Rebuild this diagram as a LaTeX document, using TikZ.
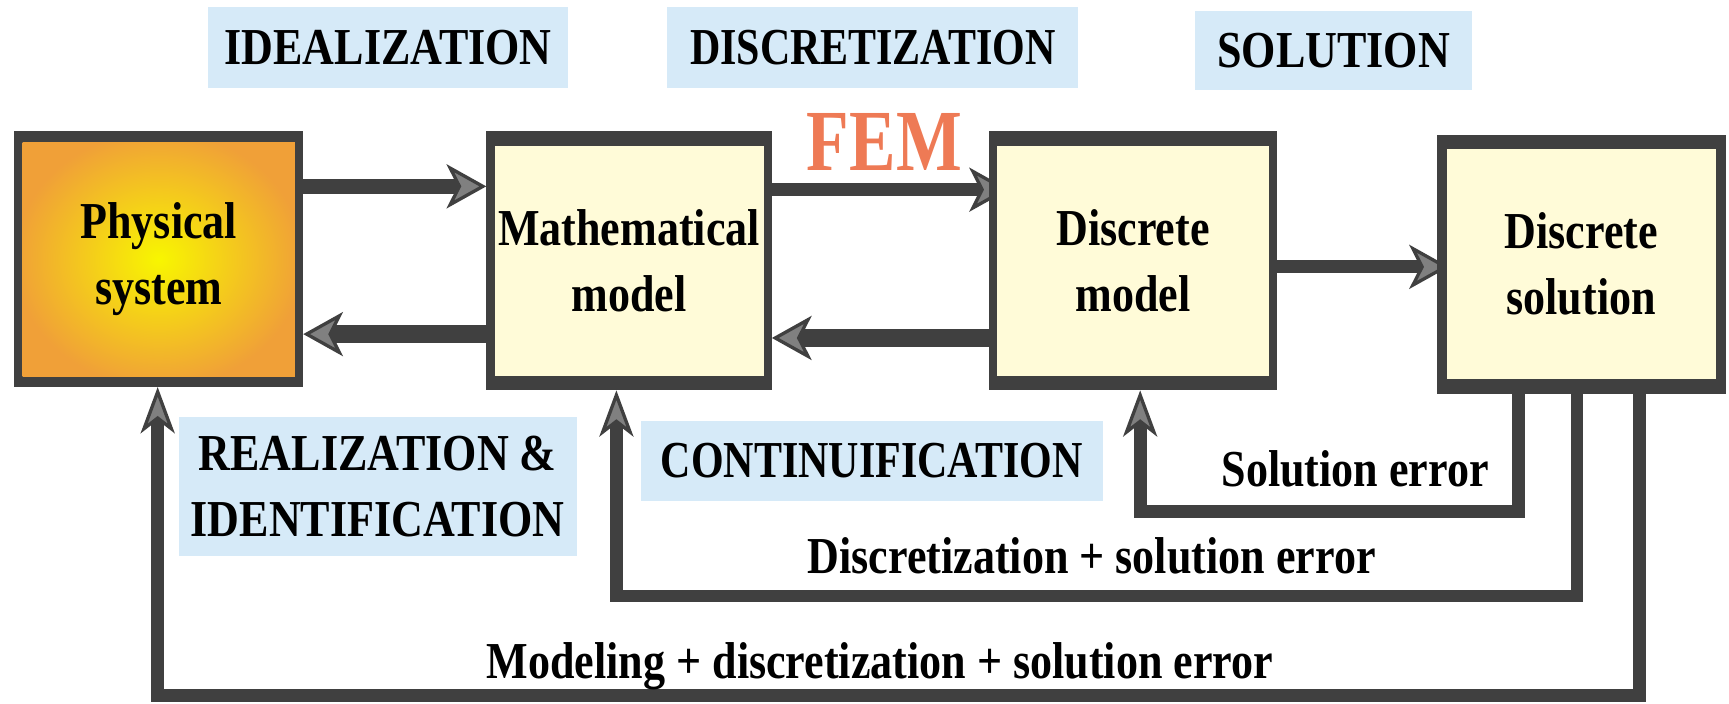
\documentclass[tikz,border=0pt]{standalone}
\usepackage{graphicx}
\usepackage{fontspec}
\setmainfont{Liberation Serif}[BoldFont={Liberation Serif Bold}]
\usetikzlibrary{arrows.meta,backgrounds}
\definecolor{dark}{RGB}{64,64,64}
\definecolor{tipgray}{RGB}{128,128,128}
\definecolor{boxfill}{RGB}{255,251,216}
\definecolor{labblue}{RGB}{214,234,248}
\definecolor{femred}{RGB}{238,122,85}
\definecolor{physin}{RGB}{248,246,0}
\definecolor{physout}{RGB}{240,160,56}
\newcommand\bigtxt{\rmfamily\bfseries\fontsize{47}{60}\selectfont}
\newcommand\cz[1]{\scalebox{0.85}[1]{#1}}
\newcommand\czn[1]{\scalebox{0.81}[1]{#1}}
\tikzset{
  blk/.style args={#1/#2}{inner sep=0pt, outer sep=0pt, fill=dark, align=center, font=\bigtxt,
    path picture={\fill[boxfill] ([xshift=#1,yshift=-#2]path picture bounding box.north west) rectangle ([xshift=-#1,yshift=#2]path picture bounding box.south east);}},
  lbl/.style={inner sep=0pt, outer sep=0pt, fill=labblue, align=center, font=\bigtxt},
  errtxt/.style={anchor=base, inner sep=0pt, font=\bigtxt},
  harr/.style={draw=dark, -{Stealth[length=36pt,width=40pt,inset=10pt,line width=3pt,color=dark,fill=tipgray]}},
  varr/.style={draw=dark, line width=11.5pt, -{Stealth[length=42pt,width=31pt,inset=12pt,line width=3pt,color=dark,fill=tipgray]}}
}
\begin{document}
\begin{tikzpicture}[x=1pt,y=-1pt]
\useasboundingbox (0,0) rectangle (1568,638);

% top labels
\node[lbl, minimum width=326pt, minimum height=74pt] (ideal) at (352,43) {\cz{IDEALIZATION}};
\node[lbl, minimum width=373pt, minimum height=74pt] (discr) at (791.5,43) {\czn{DISCRETIZATION}};
\node[lbl, minimum width=251pt, minimum height=72pt] (soln) at (1209.5,46) {\cz{SOLUTION}};
\node[anchor=base, inner sep=0pt, font=\rmfamily\bfseries\fontsize{79}{80}\selectfont, text=femred] (fem) at (802,155) {\scalebox{0.8}[1]{FEM}};

% boxes
\node[inner sep=0pt, outer sep=0pt, fill=dark, align=center, font=\bigtxt,
      minimum width=262pt, minimum height=232pt,
      path picture={\shade[inner color=physin, outer color=physout] ([xshift=7.5pt,yshift=-10pt]path picture bounding box.north west) rectangle ([xshift=-7.5pt,yshift=10pt]path picture bounding box.south east);}]
      (phys) at (144,235) {\cz{Physical}\\\cz{system}};
\node[blk=7.5pt/13pt, minimum width=259pt, minimum height=235pt] (math) at (570.5,236.5) {\cz{Mathematical}\\\cz{model}};
\node[blk=7.5pt/13pt, minimum width=261pt, minimum height=235pt] (disc) at (1027.5,236.5) {\cz{Discrete}\\\cz{model}};
\node[blk=9pt/13pt, minimum width=262pt, minimum height=235pt] (sol) at (1434,239.5) {\cz{Discrete}\\\cz{solution}};

% lower labels
\node[lbl, minimum width=361pt, minimum height=126pt] (real) at (342.5,441) {\cz{REALIZATION \&}\\\cz{IDENTIFICATION}};
\node[lbl, minimum width=419pt, minimum height=72pt] (cont) at (790.5,418) {\czn{CONTINUIFICATION}};
\node[errtxt] (e1) at (1229,441) {\cz{Solution error}};
\node[errtxt] (e2) at (990,520) {\cz{Discretization + solution error}};
\node[errtxt] (e3) at (798,615) {\cz{Modeling + discretization + solution error}};

% connectors
\coordinate (a1) at ([yshift=66pt]phys.east);
\coordinate (a2) at ([yshift=-66.5pt]math.west);
\coordinate (a3) at ([yshift=64.5pt]math.east);
\coordinate (a4) at ([yshift=-70pt]disc.west);
\coordinate (a5) at ([yshift=-5.5pt]disc.east);
\coordinate (s1) at ([xshift=-57pt]sol.south);
\coordinate (s2) at ([xshift=-4pt]sol.south);
\coordinate (s3) at ([xshift=53pt]sol.south);
\coordinate (k1) at (1034,464);
\coordinate (k2) at (559,540.5);
\coordinate (k3) at (143,631);
\begin{pgfonlayer}{background}
\draw[harr, line width=14pt] (a1) -- (a1 -| math.west);
\draw[harr, line width=17pt] (a2) -- (a2 -| phys.east);
\draw[harr, line width=12pt, shorten >=-18pt] (a3) -- (a3 -| disc.west);
\draw[harr, line width=16pt] (a4) -- (a4 -| math.east);
\draw[harr, line width=12pt, shorten >=-11pt] (a5) -- (a5 -| sol.west);
\draw[varr] (s1) |- (k1) -- (k1 |- disc.south);
\draw[varr] (s2) |- (k2) -- (k2 |- math.south);
\draw[varr] (s3) |- (k3) -- (k3 |- phys.south);
\end{pgfonlayer}
\end{tikzpicture}
\end{document}
